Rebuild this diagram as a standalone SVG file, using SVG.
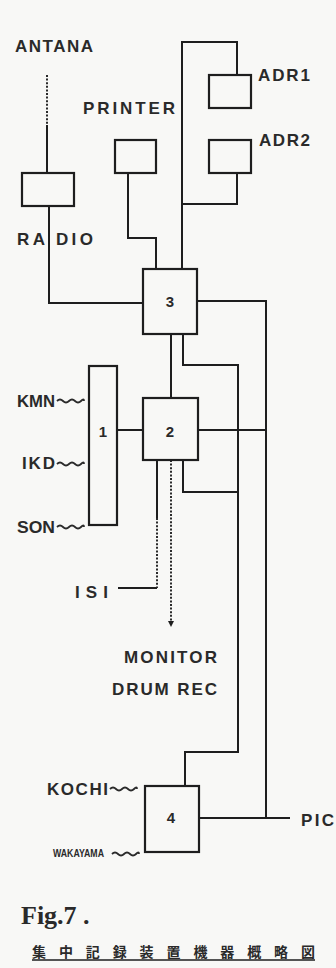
<svg xmlns="http://www.w3.org/2000/svg" width="336" height="968" viewBox="0 0 336 968">
<style>
.bg{fill:#f8f8f6}
.box{fill:none;stroke:#1e1e1e;stroke-width:2.2}
.ln{fill:none;stroke:#1e1e1e;stroke-width:2}
.dot{fill:none;stroke:#2a2a2a;stroke-width:2;stroke-dasharray:2 1.6}
.wv{fill:none;stroke:#2a2a2a;stroke-width:1.8}
.lb{font-family:"Liberation Sans",Arial,sans-serif;font-weight:bold;font-size:17px;fill:#2a2a2a}
.num{font-family:"Liberation Sans",Arial,sans-serif;font-weight:bold;font-size:15px;fill:#2a2a2a;text-anchor:middle}
.fig{font-family:"Liberation Serif","Times New Roman",serif;font-weight:bold;font-size:26px;fill:#2a2a2a}
.cap{font-family:"Noto Sans CJK JP","Noto Sans CJK SC",sans-serif;font-weight:bold;font-size:14px;fill:#2a2a2a}
</style>
<defs>
<marker id="ah" viewBox="0 0 6 6" refX="3" refY="3" markerWidth="6" markerHeight="6" orient="auto" markerUnits="userSpaceOnUse">
<path d="M0,0 L6,3 L0,6 z" fill="#1e1e1e"/>
</marker>
</defs>
<rect class="bg" x="0" y="0" width="336" height="968"/>

<g id="connectors">
<line class="dot" x1="47" y1="75" x2="47" y2="125"/>
<line class="ln" x1="47" y1="125" x2="47" y2="173"/>
<path class="ln" d="M49 206 V303 H143"/>
<path class="ln" d="M128 173 V238 H156 V269"/>
<path class="ln" d="M182 269 V42 H237 V75"/>
<path class="ln" d="M237 173 V204 H182"/>
<path class="ln" d="M197 301 H266 V818"/>
<path class="ln" d="M171 334 V398"/>
<path class="ln" d="M183 334 V365 H238 V752 H185 V786"/>
<path class="ln" d="M117 430 H143"/>
<path class="ln" d="M198 430 H266"/>
<path class="ln" d="M183 460 V492 H238"/>
<path class="ln" d="M157 460 V518"/>
<path class="dot" d="M157 518 V588"/>
<path class="ln" d="M157 588 H118"/>
<path class="dot" d="M171 460 V624" marker-end="url(#ah)"/>
<path class="ln" d="M199 818 H290"/>
<path class="wv" d="M57 401 q3 -3 6 0 t6 0 t6 0 t6 0 t3 0"/>
<path class="wv" d="M57 464 q3 -3 6 0 t6 0 t6 0 t6 0 t3 0"/>
<path class="wv" d="M57 527 q3 -3 6 0 t6 0 t6 0 t6 0 t3 0"/>
<path class="wv" d="M110 789 q3 -3 6 0 t6 0 t6 0 t6 0 t3 0"/>
<path class="wv" d="M112 854 q3 -3 6 0 t6 0 t6 0 t6 0 t3 0"/>
</g>

<g id="antana"><text class="lb" x="15" y="52" textLength="78" lengthAdjust="spacing">ANTANA</text></g>
<g id="radio">
<rect class="box" x="22" y="173" width="52" height="33"/>
<text class="lb" x="17" y="245" textLength="76" lengthAdjust="spacing">RA DIO</text>
</g>
<g id="printer">
<rect class="box" x="115" y="140" width="41" height="33"/>
<text class="lb" x="83" y="114" textLength="92" lengthAdjust="spacing">PRINTER</text>
</g>
<g id="adr1">
<rect class="box" x="209" y="75" width="42" height="33"/>
<text class="lb" x="258" y="81" textLength="52" lengthAdjust="spacing">ADR1</text>
</g>
<g id="adr2">
<rect class="box" x="209" y="140" width="42" height="33"/>
<text class="lb" x="259" y="146" textLength="51" lengthAdjust="spacing">ADR2</text>
</g>
<g id="n3">
<rect class="box" x="143" y="269" width="54" height="65"/>
<text class="num" x="170" y="307">3</text>
</g>
<g id="n1">
<rect class="box" x="89" y="366" width="28" height="159"/>
<text class="num" x="103" y="437">1</text>
</g>
<g id="n2">
<rect class="box" x="143" y="398" width="55" height="62"/>
<text class="num" x="170" y="437">2</text>
</g>
<g id="n4">
<rect class="box" x="145" y="786" width="54" height="66"/>
<text class="num" x="171" y="823">4</text>
</g>
<g id="kmn"><text class="lb" x="17" y="407" textLength="38" lengthAdjust="spacingAndGlyphs">KMN</text></g>
<g id="ikd"><text class="lb" x="22" y="469" textLength="33" lengthAdjust="spacing">IKD</text></g>
<g id="son"><text class="lb" x="17" y="533" textLength="38" lengthAdjust="spacingAndGlyphs">SON</text></g>
<g id="isi"><text class="lb" x="75" y="598" textLength="33" lengthAdjust="spacing">ISI</text></g>
<g id="monitor">
<text class="lb" x="124" y="663" textLength="93" lengthAdjust="spacing">MONITOR</text>
<text class="lb" x="112" y="695" textLength="105" lengthAdjust="spacing">DRUM REC</text>
</g>
<g id="kochi"><text class="lb" x="47" y="795" textLength="61" lengthAdjust="spacing">KOCHI</text></g>
<g id="wakayama"><text class="lb" style="font-size:11px" x="53" y="857" textLength="51" lengthAdjust="spacingAndGlyphs">WAKAYAMA</text></g>
<g id="pic"><text class="lb" x="301" y="826" textLength="33" lengthAdjust="spacing">PIC</text></g>
<g id="caption">
<text class="fig" x="21" y="924">Fig.7 .</text>
<text class="cap" x="32" y="957" textLength="283" lengthAdjust="spacing">集中記録装置機器概略図</text>
<line class="ln" x1="32" y1="960" x2="315" y2="960" style="stroke-width:1.6"/>
</g>
</svg>
